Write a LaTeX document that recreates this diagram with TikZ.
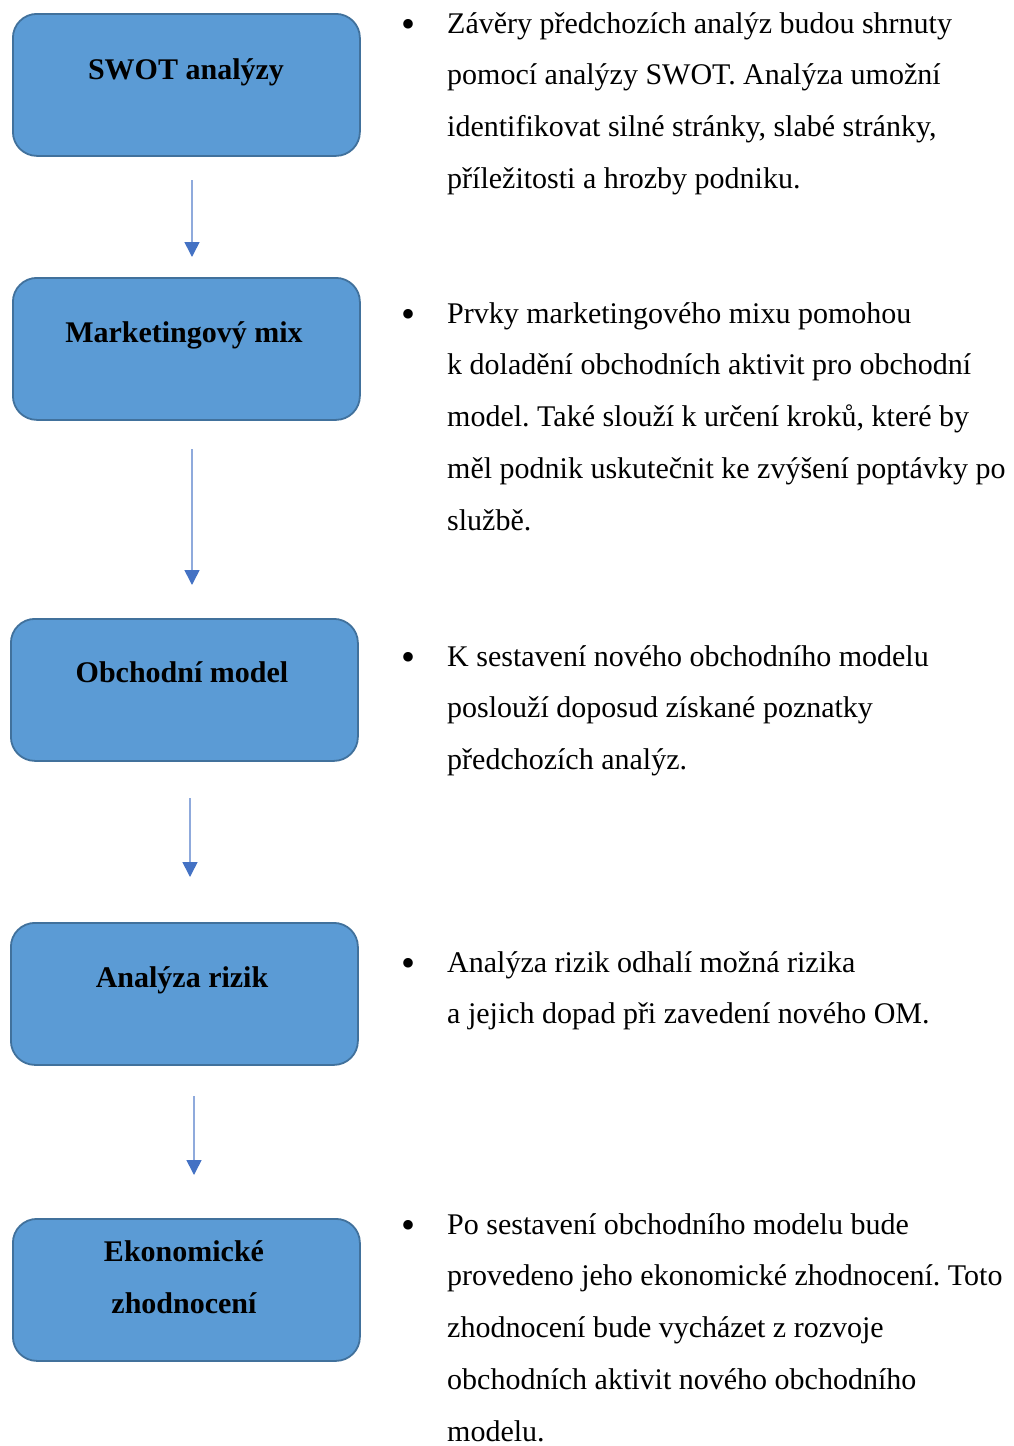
\documentclass[tikz,border=0pt]{standalone}
\usepackage{fontspec}
\setmainfont{Liberation Serif}
\usetikzlibrary{arrows.meta}
\definecolor{boxfill}{HTML}{5B9BD5}
\definecolor{boxdraw}{HTML}{41719C}
\definecolor{arrline}{HTML}{8FAADC}
\definecolor{arrhead}{HTML}{4472C4}
\frenchspacing
\begin{document}
\begin{tikzpicture}[x=1pt,y=-1pt,
  stepbox/.style={draw=boxdraw, line width=1.8pt, fill=boxfill, rounded corners=24pt,
    minimum width=347pt, minimum height=142pt, anchor=north west, inner sep=0pt},
  boxtext/.style={font=\fontsize{30}{52}\selectfont\bfseries, anchor=base, align=center, inner sep=0pt},
  bodytext/.style={font=\fontsize{30}{51.8}\selectfont, anchor=base west, align=left, inner sep=0pt},
  bul/.style={font=\fontsize{40}{40}\selectfont, anchor=center, inner sep=0pt},
  flow/.style={draw=arrline, line width=1.6pt, -{Triangle[width=15pt,length=15pt,color=arrhead]}}
]
\useasboundingbox (0,0) rectangle (1013,1446);

% boxes
\node[stepbox] (b1) at (12,13) {};
\node[stepbox] (b2) at (12,277) {};
\node[stepbox] (b3) at (10,618) {};
\node[stepbox] (b4) at (10,922) {};
\node[stepbox] (b5) at (12,1218) {};

\node[boxtext] (t1) at (186,79) {SWOT analýzy};
\node[boxtext] (t2) at (184,342) {Marketingový mix};
\node[boxtext] (t3) at (182,682) {Obchodní model};
\node[boxtext] (t4) at (182,987) {Analýza rizik};
\node[boxtext] (t5) at (184,1313) {Ekonomické\\zhodnocení};

% arrows
\coordinate (a1s) at (192,180); \coordinate (a1e) at (192,257);
\coordinate (a2s) at (192,449); \coordinate (a2e) at (192,585);
\coordinate (a3s) at (190,798); \coordinate (a3e) at (190,877);
\coordinate (a4s) at (194,1096); \coordinate (a4e) at (194,1175);
\draw[flow] (a1s) -- (a1e);
\draw[flow] (a2s) -- (a2e);
\draw[flow] (a3s) -- (a3e);
\draw[flow] (a4s) -- (a4e);

% bullets
\node[bul] (u1) at (408,28.5) {•};
\node[bul] (u2) at (408,318.5) {•};
\node[bul] (u3) at (408,661.5) {•};
\node[bul] (u4) at (408,967.5) {•};
\node[bul] (u5) at (408,1229.5) {•};

% texts (anchor = baseline of last line)
\node[bodytext] (p1) at (447,188.4) {Závěry předchozích analýz budou shrnuty\\pomocí analýzy SWOT. Analýza umožní\\identifikovat silné stránky, slabé stránky,\\příležitosti a hrozby podniku.};
\node[bodytext] (p2) at (447,530.2) {Prvky marketingového mixu pomohou\\k doladění obchodních aktivit pro obchodní\\model. Také slouží k určení kroků, které by\\měl podnik uskutečnit ke zvýšení poptávky po\\službě.};
\node[bodytext] (p3) at (447,769.6) {K sestavení nového obchodního modelu\\poslouží doposud získané poznatky\\předchozích analýz.};
\node[bodytext] (p4) at (447,1023.8) {Analýza rizik odhalí možná rizika\\a jejich dopad při zavedení nového OM.};
\node[bodytext] (p5) at (447,1441.2) {Po sestavení obchodního modelu bude\\provedeno jeho ekonomické zhodnocení. Toto\\zhodnocení bude vycházet z rozvoje\\obchodních aktivit nového obchodního\\modelu.};
\end{tikzpicture}
\end{document}
